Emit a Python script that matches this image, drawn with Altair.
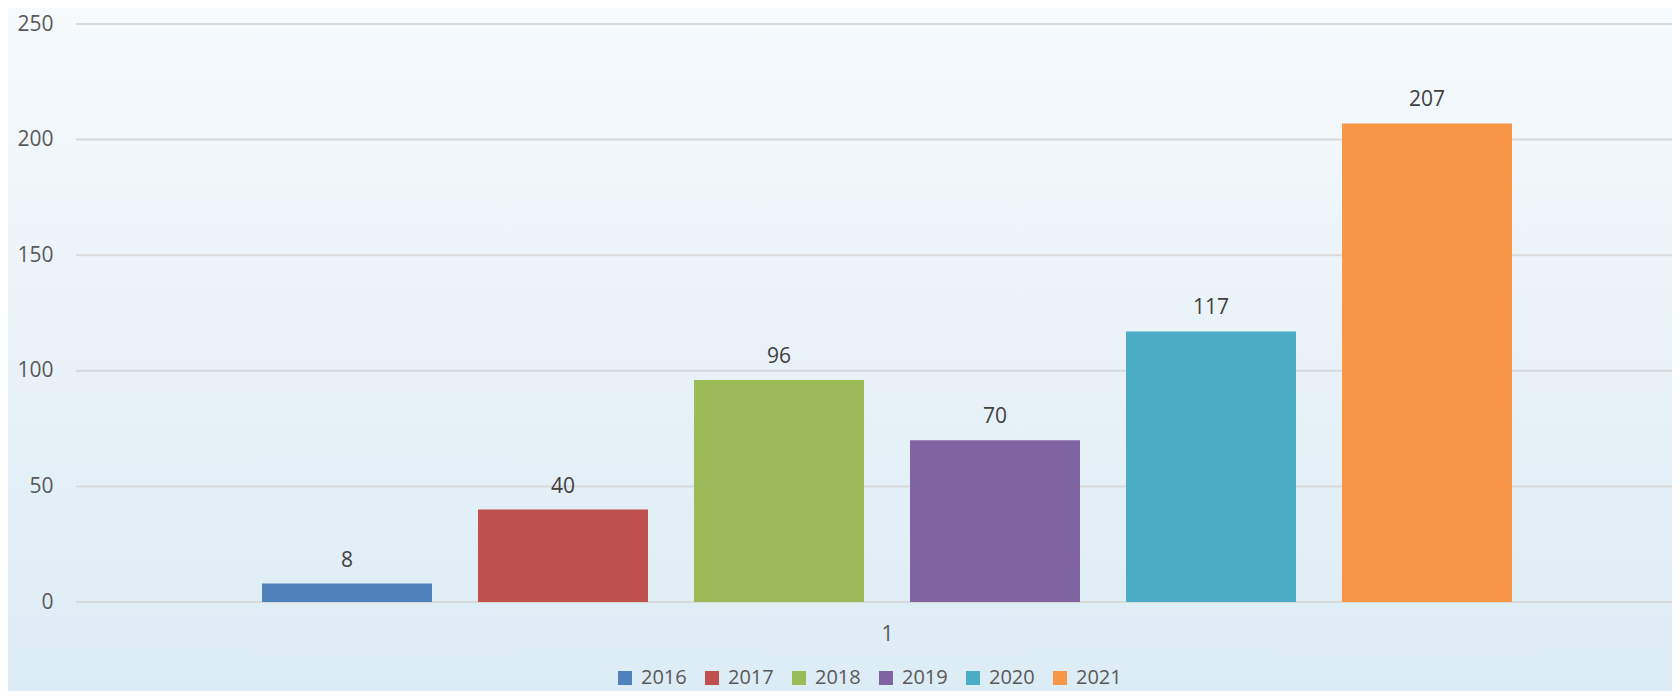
import altair as alt
import pandas as pd

years = ["2016", "2017", "2018", "2019", "2020", "2021"]
values = [8, 40, 96, 70, 117, 207]
colors = ["#4F81BD", "#C0504D", "#9BBB59", "#8064A2", "#4BACC6", "#F79646"]
y_ticks = [0, 50, 100, 150, 200, 250]
category_label = "1"

W, H = 1596, 578
FONT = "Open Sans"

df = pd.DataFrame({"year": years, "value": values})
grid_df = pd.DataFrame({"v": y_ticks})

y_scale = alt.Scale(domain=[0, 250], nice=False)
y_axis = alt.Axis(values=y_ticks, grid=False, ticks=False, domain=False,
                  labelPadding=23, labelFontSize=21, labelColor="#595959",
                  labelFont=FONT, title=None, zindex=2)

x_scale = alt.Scale(domain=years, paddingInner=0.21296, paddingOuter=0.80093, align=0.5376)
x_axis = alt.Axis(title=category_label, labels=False, ticks=False, domain=False,
                  titleFontSize=21, titleFontWeight="normal", titleColor="#595959",
                  titleFont=FONT, titleX=811, titleY=38, titleBaseline="alphabetic",
                  zindex=2)

bg = alt.Chart(alt.Data(values=[{}])).mark_rect(
    color=alt.LinearGradient(
        gradient="linear", x1=0, y1=0, x2=0, y2=1,
        stops=[alt.GradientStop(offset=0, color="#f6fafd"),
               alt.GradientStop(offset=0.5, color="#e9f2f8"),
               alt.GradientStop(offset=1, color="#dcecf5")]),
).encode(x=alt.value(-68), x2=alt.value(W), y=alt.value(-16), y2=alt.value(H + 89))

grid = alt.Chart(grid_df).mark_rule(color="#d9d9d9", strokeWidth=2).encode(
    y=alt.Y("v:Q", scale=y_scale, axis=y_axis),
    x=alt.value(0), x2=alt.value(W),
)

bars = alt.Chart(df).mark_bar().encode(
    x=alt.X("year:N", scale=x_scale, axis=x_axis),
    y=alt.Y("value:Q", scale=y_scale, axis=y_axis),
    color=alt.Color("year:N", scale=alt.Scale(domain=years, range=colors),
                    legend=alt.Legend(title=None, orient="none", direction="horizontal",
                                      columns=6, legendX=539, legendY=644,
                                      symbolType="square", symbolSize=196,
                                      symbolStrokeWidth=0, symbolOpacity=1,
                                      labelFontSize=20, labelColor="#595959",
                                      labelFont=FONT, labelOffset=6,
                                      columnPadding=15, padding=0, zindex=2)),
)

labels = alt.Chart(df).mark_text(baseline="alphabetic", dy=-17, fontSize=21,
                                 color="#404040", font=FONT).encode(
    x=alt.X("year:N", scale=x_scale, axis=x_axis),
    y=alt.Y("value:Q", scale=y_scale, axis=y_axis),
    text=alt.Text("value:Q"),
)

chart = alt.layer(bg, grid, bars, labels).properties(
    width=W, height=H,
    autosize=alt.AutoSizeParams(type="none"),
    padding={"left": 68, "top": 16, "right": 0, "bottom": 89},
).configure(background="#e9f2f8", font=FONT).configure_view(stroke=None)

chart.save("out.html", embed_options={"renderer": "svg", "actions": False})
